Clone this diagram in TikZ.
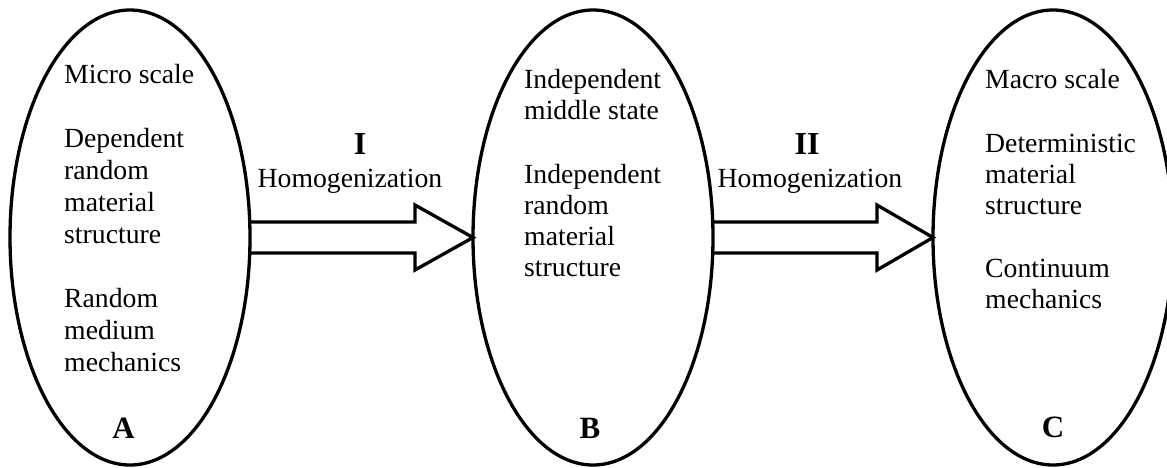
\documentclass[tikz,border=0pt]{standalone}
\usepackage{fontspec}
\setmainfont{Liberation Serif}
\usetikzlibrary{shapes.geometric,calc}
\begin{document}
\begin{tikzpicture}[x=1pt,y=-1pt,
  stage/.style={draw,line width=3.3pt,ellipse,minimum width=240pt,minimum height=455pt,inner sep=0pt,outer sep=0pt},
  body/.style={anchor=base west,font=\fontsize{27.7}{31.5}\selectfont,inner sep=0pt},
  tag/.style={anchor=base,font=\fontsize{31}{34}\selectfont\bfseries,inner sep=0pt},
  roman/.style={anchor=base,font=\fontsize{32}{35}\selectfont\bfseries,inner sep=0pt},
  hom/.style={anchor=base,font=\fontsize{27.7}{31.5}\selectfont,inner sep=0pt},
  fat/.style={line width=3.3pt,line join=miter}]
\useasboundingbox (0,0) rectangle (1167,467);
\node[stage] (A) at (130,237.5) {};
\node[stage] (B) at (593,237.5) {};
\node[stage] (C) at (1053,237.5) {};
% texts in A
\foreach \t/\y [count=\i] in {Micro scale/83,Dependent/147,random/179,material/211,structure/243,Random/307,medium/339,mechanics/371}
  \node[body,name=a\i] at (64,\y) {\t};
% texts in B
\foreach \t/\y [count=\i] in {Independent/88,middle state/119,Independent/183,random/214,material/245,structure/276}
  \node[body,name=b\i] at (524,\y) {\t};
% texts in C
\foreach \t/\y [count=\i] in {Macro scale/88,Deterministic/152,material/183,structure/214,Continuum/277,mechanics/308}
  \node[body,name=c\i] at (985,\y) {\t};
\node[tag] (tA) at (123.5,438) {A};
\node[tag] (tB) at (590,438) {B};
\node[tag] (tC) at (1053,437) {C};
% arrows
\draw[fat] ([yshift=15.5pt]A.east) -- ($(B.west)+(-58,-15.5)$) -- ($(B.west)+(-58,-32.5)$)
  -- (B.west) -- ($(B.west)+(-58,32.5)$) -- ($(B.west)+(-58,15.5)$) -- ([yshift=-15.5pt]A.east);
\draw[fat] ([yshift=15.5pt]B.east) -- ($(C.west)+(-56,-15.5)$) -- ($(C.west)+(-56,-32.5)$)
  -- (C.west) -- ($(C.west)+(-56,32.5)$) -- ($(C.west)+(-56,15.5)$) -- ([yshift=-15.5pt]B.east);
\node[roman] (r1) at (360,154) {I};
\node[hom] (h1) at (350,187) {Homogenization};
\node[roman] (r2) at (807,154) {II};
\node[hom] (h2) at (810,187) {Homogenization};
\end{tikzpicture}
\end{document}
